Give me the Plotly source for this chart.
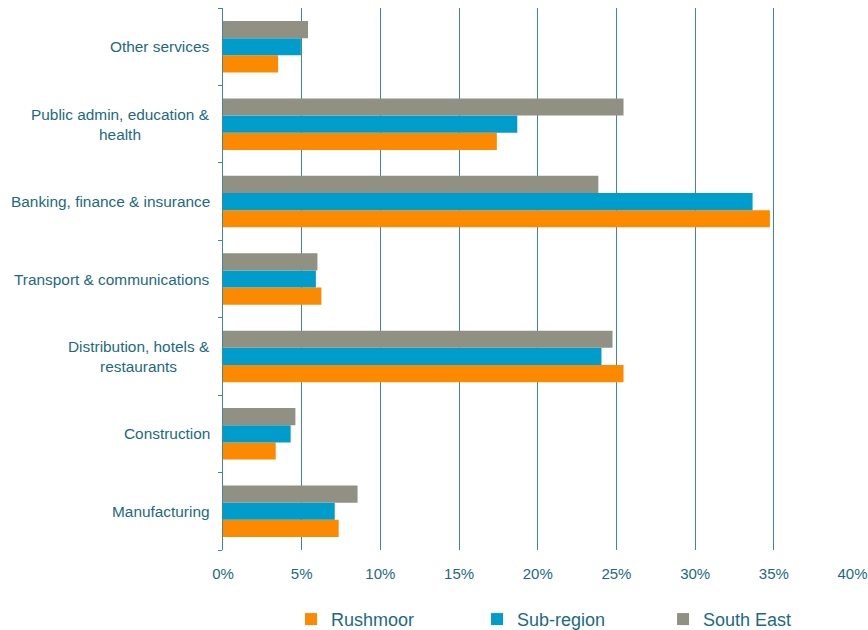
import plotly.graph_objects as go

# Industry sectors, bottom to top
categories = [
    "Manufacturing",
    "Construction",
    "Distribution, hotels &<br>restaurants",
    "Transport & communications",
    "Banking, finance & insurance",
    "Public admin, education &<br>health",
    "Other services",
]

# Share of employment (%)
rushmoor = [7.35, 3.35, 25.45, 6.25, 34.75, 17.4, 3.5]
sub_region = [7.1, 4.3, 24.05, 5.9, 33.65, 18.7, 4.95]
south_east = [8.55, 4.6, 24.75, 6.0, 23.85, 25.45, 5.4]

x_ticks = [0, 5, 10, 15, 20, 25, 30, 35, 40]
x_tick_labels = [f"{v}%" for v in x_ticks]

TEAL = "#1d6a80"
GRID = "#3f8799"
FONT = "Liberation Sans, Arial, sans-serif"

fig = go.Figure()
for name, vals, color in [
    ("Rushmoor", rushmoor, "#fb8a00"),
    ("Sub-region", sub_region, "#009ccc"),
    ("South East", south_east, "#919183"),
]:
    fig.add_trace(go.Bar(
        y=categories, x=vals, name=name, orientation="h",
        marker=dict(color=color, line=dict(width=0)),
    ))

# Category labels, centred across their lines
for cat in categories:
    fig.add_annotation(
        x=0, xref="paper", y=cat, yref="y", text=cat, showarrow=False,
        xanchor="right", xshift=-11, align="center",
        font=dict(family=FONT, size=15.4, color=TEAL),
    )

fig.update_layout(
    width=868, height=630,
    margin=dict(l=223, r=15, t=8, b=80, autoexpand=False),
    paper_bgcolor="white", plot_bgcolor="white",
    barmode="group", bargap=0.335, bargroupgap=0,
    font=dict(family=FONT, size=15, color=TEAL),
    showlegend=True,
    legend=dict(
        orientation="h", x=0.108, xanchor="left", y=-0.128, yanchor="middle",
        font=dict(family=FONT, size=18, color=TEAL),
        entrywidth=141, itemwidth=30, traceorder="normal",
        bgcolor="rgba(0,0,0,0)",
    ),
    xaxis=dict(
        range=[0, 40.03], tickvals=x_ticks, ticktext=x_tick_labels,
        showgrid=True, gridcolor=GRID, gridwidth=1,
        zeroline=False, showline=False, ticks="",
        ticklabelstandoff=13,
        tickfont=dict(family=FONT, size=15, color=TEAL),
        fixedrange=True,
    ),
    yaxis=dict(
        categoryorder="array", categoryarray=categories,
        showticklabels=False, showgrid=False, zeroline=False,
        showline=True, linecolor=GRID, linewidth=1,
        ticks="outside", tickson="boundaries", ticklen=4, tickcolor=GRID,
        fixedrange=True,
    ),
)

fig.write_html("out.html")
